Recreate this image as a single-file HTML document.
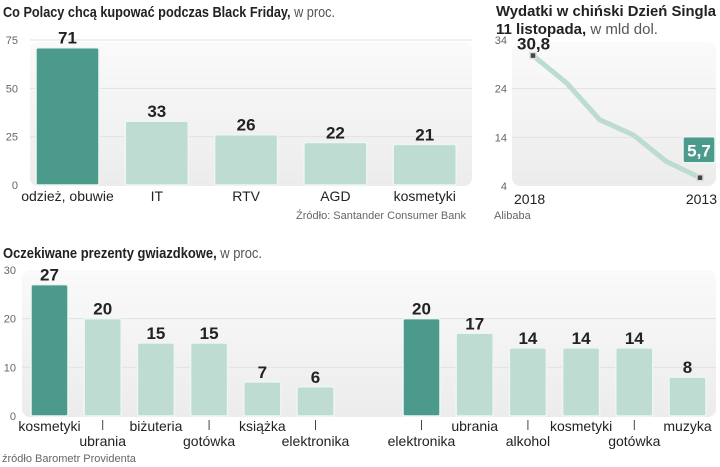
<!DOCTYPE html>
<html><head><meta charset="utf-8">
<style>
html,body{margin:0;padding:0;background:#fff;}
svg{display:block;font-family:"Liberation Sans",sans-serif;}
.t{font-weight:bold;font-size:15px;fill:#222;}
.ts{font-size:15px;fill:#555;}
.tick{font-size:11px;fill:#666;}
.cat{font-size:14px;fill:#222;}
.val{font-weight:bold;font-size:17px;fill:#222;}
.src{font-size:11px;fill:#666;}
</style></head>
<body>
<svg id="c" width="720" height="467" viewBox="0 0 720 467">
<defs>
<linearGradient id="bg" x1="0" y1="0" x2="0" y2="1"><stop offset="0" stop-color="#fafafa"/><stop offset="1" stop-color="#ececec"/></linearGradient>
</defs>
<text x="3" y="17" class="t" textLength="332" lengthAdjust="spacingAndGlyphs">Co Polacy chcą kupować podczas Black Friday,<tspan class="ts" font-weight="normal"> w proc.</tspan></text>
<text x="496" y="16" class="t" textLength="220" lengthAdjust="spacingAndGlyphs">Wydatki w chiński Dzień Singla</text>
<text x="496" y="34" class="t" textLength="162" lengthAdjust="spacingAndGlyphs">11 listopada,<tspan class="ts" font-weight="normal"> w mld dol.</tspan></text>
<text x="3" y="258" class="t" textLength="259" lengthAdjust="spacingAndGlyphs">Oczekiwane prezenty gwiazdkowe,<tspan class="ts" font-weight="normal"> w proc.</tspan></text>
<rect x="30" y="42" width="442" height="144" rx="8" fill="url(#bg)"/>
<rect x="512" y="42" width="204" height="144" rx="8" fill="url(#bg)"/>
<rect x="22" y="270" width="694" height="147" rx="8" fill="url(#bg)"/>
<g id="g1"></g><g id="g2"></g><g id="g3"></g>
<text x="466" y="219" class="src" text-anchor="end">Źródło: Santander Consumer Bank</text>
<text x="494" y="219" class="src">Alibaba</text>
<text x="2" y="462" class="src">źródło Barometr Providenta</text>
</svg>
<script>
const c1Cats=["odzież, obuwie","IT","RTV","AGD","kosmetyki"];
const c1Vals=[71,33,26,22,21];
const c1Ticks=[0,25,50,75];
const c2Years=["2018","2017","2016","2015","2014","2013"];
const c2Vals=[30.8,25.2,17.6,14.5,9.0,5.7];
const c2Ticks=[4,14,24,34];
const c3CatsA=["kosmetyki","ubrania","biżuteria","gotówka","książka","elektronika"];
const c3ValsA=[27,20,15,15,7,6];
const c3CatsB=["elektronika","ubrania","alkohol","kosmetyki","gotówka","muzyka"];
const c3ValsB=[20,17,14,14,14,8];
const c3Ticks=[0,10,20,30];
const NS="http://www.w3.org/2000/svg";
function mk(p,tag,a,txt){const e=document.createElementNS(NS,tag);for(const k in a)e.setAttribute(k,a[k]);if(txt!=null)e.textContent=txt;p.appendChild(e);return e;}
const DARK="#4b9a8b",LIGHT="#bfdcd2";
// chart 1
(function(){
const g=document.getElementById('g1');
const y=v=>185-v*(145/75);
c1Ticks.forEach(t=>{
 if(t>0){const l=mk(g,'line',{x1:30,x2:472,y1:y(t),y2:y(t),stroke:'#e2e2e2'});}
 const tx=mk(g,'text',{x:18,y:y(t)+4,'text-anchor':'end',class:'tick'},t);
 
});
c1Vals.forEach((v,i)=>{
 const x=36+i*89.3,w=63;
 const r=mk(g,'rect',{x:x,y:y(v),width:w,height:185-y(v),rx:2,fill:i==0?DARK:LIGHT,stroke:'#eef6f3','stroke-width':1.5});
 
 const t=mk(g,'text',{x:x+w/2,y:y(v)-4,'text-anchor':'middle',class:'val'},v);
 
 const c=mk(g,'text',{x:x+w/2,y:201,'text-anchor':'middle',class:'cat','font-size':'15'},c1Cats[i]);
 
});
})();
// chart 2
(function(){
const g=document.getElementById('g2');
const y=v=>186-(v-4)*(146/30);
const x=i=>533+i*(167/(c2Vals.length-1));
c2Ticks.forEach(t=>{
 if(t>4&&t<34){const l=mk(g,'line',{x1:512,x2:716,y1:y(t),y2:y(t),stroke:'#e2e2e2'});}
 const tx=mk(g,'text',{x:507,y:y(t)+4,'text-anchor':'end',class:'tick'},t);
 
});
const d=c2Vals.map((v,i)=>(i?'L':'M')+x(i)+','+y(v)).join(' ');
const p=mk(g,'path',{d:d,fill:'none',stroke:'#bcdccf','stroke-width':5,'stroke-linejoin':'round','stroke-linecap':'round'});

[0,c2Vals.length-1].forEach(i=>{
 const m=mk(g,'rect',{x:x(i)-3,y:y(c2Vals[i])-3,width:6,height:6,fill:'#444',stroke:'#ddd','stroke-width':1.5});
 
});
const l0=mk(g,'text',{x:517,y:y(c2Vals[0])-6,class:'val','font-size':'18'},String(c2Vals[0]).replace('.',','));

const li=c2Vals.length-1;
const bx=mk(g,'rect',{x:683,y:y(c2Vals[li])-41,width:32,height:26,rx:2,fill:DARK,stroke:'#eef6f3','stroke-width':1.5});

const l1=mk(g,'text',{x:699,y:y(c2Vals[li])-21,'text-anchor':'middle',class:'val','font-size':'17'},String(c2Vals[li]).replace('.',','));
l1.setAttribute('style','fill:#fff');

[[0,'start'],[li,'end']].forEach(([i,a])=>{
 const t=mk(g,'text',{x:i==0?514:717,y:204,'text-anchor':a,class:'cat','font-size':'17'},c2Years[i]);
 
});
})();
// chart 3
(function(){
const g=document.getElementById('g3');
const y=v=>416-v*(146/30);
c3Ticks.forEach(t=>{
 if(t>0&&t<30){const l=mk(g,'line',{x1:22,x2:716,y1:y(t),y2:y(t),stroke:'#e2e2e2'});}
 const tx=mk(g,'text',{x:16,y:y(t)+4,'text-anchor':'end',class:'tick'},t);
 
});
function group(cats,vals,x0,upperEven){
 vals.forEach((v,i)=>{
  const x=x0+i*53.2,w=37;
  const r=mk(g,'rect',{x:x,y:y(v),width:w,height:416-y(v),rx:2,fill:i==0?DARK:LIGHT,stroke:'#eef6f3','stroke-width':1.5});
  
  const t=mk(g,'text',{x:x+w/2,y:y(v)-4,'text-anchor':'middle',class:'val'},v);
  
  const upper=(i%2==0)===upperEven;
  if(!upper){const tk=mk(g,'line',{x1:x+w/2,x2:x+w/2,y1:420,y2:430,stroke:'#444'});}
  const c=mk(g,'text',{x:x+w/2,y:upper?431:446,'text-anchor':'middle',class:'cat','font-size':'14.5'},cats[i]);
  
 });
}
group(c3CatsA,c3ValsA,31,true);
group(c3CatsB,c3ValsB,403,false);
})();
</script>
</body></html>
